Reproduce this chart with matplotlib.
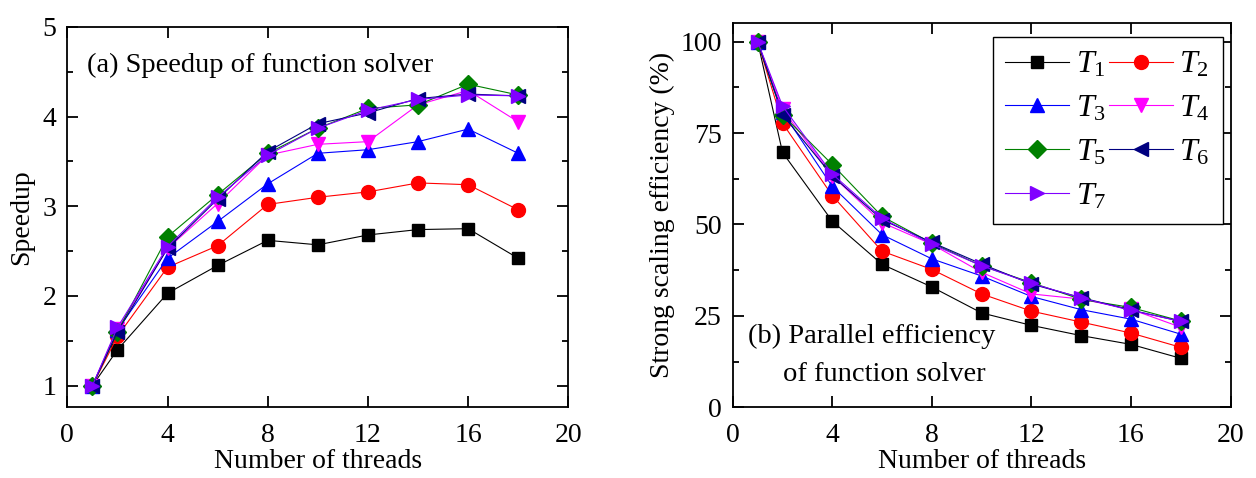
import matplotlib
matplotlib.use("Agg")
import matplotlib.pyplot as plt
import matplotlib.ticker as ticker

plt.rcParams.update({
    "font.family":       "Liberation Serif",
    "mathtext.fontset":  "custom",
    "mathtext.rm":       "Liberation Serif",
    "mathtext.it":       "Liberation Serif:italic",
    "font.size":         20,
    "axes.linewidth":    1.3,
    "xtick.direction":   "in",
    "ytick.direction":   "in",
    "xtick.top":         True,
    "ytick.right":       True,
    "xtick.major.size":  8,
    "ytick.major.size":  8,
    "ytick.minor.size":  4,
    "xtick.major.width": 1.3,
    "ytick.major.width": 1.3,
    "ytick.minor.width": 1.3,
    "xtick.major.pad":   11,
    "ytick.major.pad":   8,
})

# ── Data ──────────────────────────────────────────────────
threads = [1, 2, 4, 6, 8, 10, 12, 14, 16, 18]

speedup_t1 = [1.0, 1.40, 2.03, 2.34, 2.62, 2.57, 2.68, 2.74, 2.75, 2.42]
speedup_t2 = [1.0, 1.55, 2.32, 2.56, 3.02, 3.10, 3.16, 3.26, 3.24, 2.96]
speedup_t3 = [1.0, 1.62, 2.42, 2.83, 3.25, 3.59, 3.63, 3.72, 3.86, 3.59]
speedup_t4 = [1.0, 1.63, 2.53, 3.03, 3.57, 3.69, 3.72, 4.13, 4.29, 3.94]
speedup_t5 = [1.0, 1.60, 2.66, 3.13, 3.59, 3.87, 4.09, 4.13, 4.36, 4.24]
speedup_t6 = [1.0, 1.60, 2.53, 3.08, 3.61, 3.92, 4.04, 4.20, 4.25, 4.23]
speedup_t7 = [1.0, 1.65, 2.55, 3.10, 3.57, 3.87, 4.07, 4.19, 4.24, 4.23]

eff_t1 = [100, 69.7, 50.9, 39.1, 32.9, 25.8, 22.4, 19.6, 17.2, 13.4]
eff_t2 = [100, 77.7, 57.9, 42.7, 37.7, 31.0, 26.3, 23.3, 20.3, 16.4]
eff_t3 = [100, 80.8, 60.4, 47.2, 40.6, 35.9, 30.3, 26.7, 24.1, 20.0]
eff_t4 = [100, 81.5, 63.3, 50.5, 44.6, 36.9, 31.0, 29.6, 26.8, 21.9]
eff_t5 = [100, 80.0, 66.4, 52.2, 44.9, 38.7, 34.1, 29.5, 27.3, 23.6]
eff_t6 = [100, 80.0, 63.3, 51.3, 45.1, 39.2, 33.7, 30.0, 26.6, 23.5]
eff_t7 = [100, 82.4, 63.8, 51.7, 44.6, 38.7, 33.9, 29.9, 26.5, 23.5]

labels  = ["$T_1$", "$T_2$", "$T_3$", "$T_4$", "$T_5$", "$T_6$", "$T_7$"]
colors  = ["black", "red", "blue", "magenta", "green", "navy", "#8000ff"]
markers = ["s", "o", "^", "v", "D", "<", ">"]
msizes  = [9, 10, 10.5, 10.5, 9, 10.5, 10.5]

speedups = [speedup_t1, speedup_t2, speedup_t3, speedup_t4,
            speedup_t5, speedup_t6, speedup_t7]
effs     = [eff_t1, eff_t2, eff_t3, eff_t4, eff_t5, eff_t6, eff_t7]

fig = plt.figure(figsize=(12.56, 4.78), dpi=100)
ax1 = fig.add_axes([0.0536, 0.148, 0.3989, 0.796])
ax2 = fig.add_axes([0.5834, 0.148, 0.3963, 0.803])

# ── (a) Speedup ───────────────────────────────────────────
for s, c, m, ms, lab in zip(speedups, colors, markers, msizes, labels):
    ax1.plot(threads, s, color=c, marker=m, markersize=ms, linewidth=0.8,
             label=lab)
ax1.set_xlim(0, 20)
ax1.set_ylim(0.76, 5)
ax1.xaxis.set_major_locator(ticker.MultipleLocator(4))
ax1.yaxis.set_major_locator(ticker.MultipleLocator(1))
ax1.yaxis.set_minor_locator(ticker.MultipleLocator(0.5))
ax1.set_xlabel("Number of threads", labelpad=1)
ax1.set_ylabel("Speedup", labelpad=6)
ax1.text(0.039, 0.882, "(a) Speedup of function solver", transform=ax1.transAxes,
         ha="left", va="baseline", fontsize=20.5)

# ── (b) Efficiency ────────────────────────────────────────
for e, c, m, ms, lab in zip(effs, colors, markers, msizes, labels):
    ax2.plot(threads, e, color=c, marker=m, markersize=ms, linewidth=0.8,
             label=lab)
ax2.set_xlim(0, 20)
ax2.set_ylim(0, 105)
ax2.xaxis.set_major_locator(ticker.MultipleLocator(4))
ax2.yaxis.set_major_locator(ticker.MultipleLocator(25))
ax2.yaxis.set_minor_locator(ticker.MultipleLocator(12.5))
ax2.set_xlabel("Number of threads", labelpad=1)
ax2.set_ylabel("Strong scaling efficiency (%)", labelpad=4)
ax2.text(0.031, 0.167, "(b) Parallel efficiency", transform=ax2.transAxes,
         ha="left", va="baseline", fontsize=20.5)
ax2.text(0.101, 0.069, "of function solver", transform=ax2.transAxes,
         ha="left", va="baseline", fontsize=20.5)

# legend filled row by row: T1 T2 / T3 T4 / T5 T6 / T7
handles, labs = ax2.get_legend_handles_labels()
order = [0, 2, 4, 6, 1, 3, 5]
leg = ax2.legend([handles[i] for i in order], [labs[i] for i in order],
                 loc="upper right", ncol=2, fontsize=23, frameon=True,
                 fancybox=False, edgecolor="black", framealpha=1,
                 handlelength=2.0, columnspacing=0.1, handletextpad=0.2,
                 labelspacing=0.45, borderpad=0.4, borderaxespad=0,
                 bbox_to_anchor=(0.9845, 0.9635))
leg.get_frame().set_linewidth(1.0)

plt.savefig("out.png", dpi=100)
plt.close()
